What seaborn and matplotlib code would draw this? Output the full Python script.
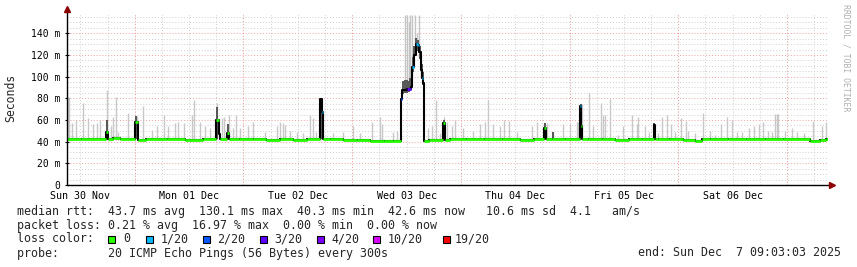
import matplotlib
matplotlib.use("Agg")
import matplotlib.pyplot as plt
from matplotlib.patches import Rectangle
import seaborn as sns
import pandas as pd

# ---------------- data (hours since start = Sun 30 Nov 09:03:03) ----------------
start = pd.Timestamp("2025-11-30 09:03:03")
span_hours = 168.0

# median rtt (ms), step-wise
med_t = [0.0, 3.0, 8.61, 9.05, 10.2, 11.7, 15.01, 15.61, 17.5, 22.0, 26.0, 30.0,
         32.9, 33.5, 33.8, 35.35, 35.7, 38.0, 41.0, 44.0, 47.0, 50.0, 53.0,
         55.85, 56.3, 56.55, 58.0, 61.0, 64.0, 67.0, 70.0, 72.0,
         73.73, 74.0, 75.0, 75.9, 76.2, 76.6, 77.0, 77.4, 77.8, 78.2, 78.45, 78.65,
         78.85, 80.0, 82.9, 83.5, 84.5, 88.0, 92.0, 96.0, 100.0, 103.0,
         105.3, 105.75, 107.0, 110.0, 113.2, 113.5, 113.75, 115.0, 118.0, 121.0,
         124.0, 127.0, 129.5, 129.75, 130.5, 133.0, 136.0, 138.7, 140.2, 142.0,
         146.0, 150.0, 154.0, 158.0, 164.0, 166.2, 167.5, 168.0]
med_v = [42.2, 42.0, 49.0, 42.5, 43.5, 42.2, 58.4, 41.5, 42.0, 42.3, 41.8, 42.2,
         60.0, 47.0, 42.2, 47.7, 42.4, 42.0, 42.4, 41.8, 42.2, 41.6, 42.0,
         79.0, 67.7, 42.0, 42.3, 41.8, 41.2, 41.0, 40.8, 41.0,
         79.0, 88.0, 89.0, 90.2, 109.0, 120.0, 130.1, 129.0, 123.0, 106.0, 98.5, 94.0,
         40.6, 41.2, 57.0, 41.8, 42.3, 42.0, 42.4, 42.1, 41.8, 42.3,
         53.0, 42.0, 42.5, 42.3, 73.0, 54.0, 42.0, 42.4, 42.0, 41.7,
         42.6, 42.3, 55.4, 42.2, 42.8, 42.0, 41.8, 40.6, 42.7, 42.0,
         42.3, 42.0, 42.6, 42.4, 40.8, 41.8, 42.6, 42.6]
# loss level index per segment (-1 = drawn dark only)
med_loss = [0, 0, 0, 0, 0, 0, 0, 0, 0, 0, 0, 0,
            0, -1, 0, 0, 0, 0, 0, 0, 0, 0, 0,
            -1, 1, 0, 0, 0, 0, 0, 0, 0,
            2, -1, 3, -1, 1, -1, 1, 1, -1, -1, 1, -1,
            0, 0, 0, 0, 0, 0, 0, 0, 0, 0,
            0, 0, 0, 0, 1, 0, 0, 0, 0, 0,
            0, 0, -1, 0, 0, 0, 0, 0, 0, 0,
            0, 0, 0, 0, 0, 0, 0, 0]

# light smoke (max ping) spikes
smoke_t = [0.22, 0.55, 1.04, 1.99, 3.60, 4.64, 5.67, 6.56, 7.29, 8.90, 9.72, 10.22,
           10.75, 11.33, 13.53, 15.35, 16.85, 18.70, 19.81, 21.42, 22.37, 23.85,
           24.58, 25.90, 27.53, 28.11, 29.37, 30.47, 31.57, 33.05, 34.16, 34.67,
           35.84, 36.72, 37.32, 38.20, 40.03, 41.14, 43.72, 46.30, 47.03, 47.63,
           48.13, 49.24, 50.72, 52.18, 53.65, 54.38, 54.98, 56.08, 58.80, 61.01,
           63.08, 64.69, 67.28, 69.11, 69.49, 72.05, 72.80, 79.64, 80.52, 81.47,
           82.36, 83.24, 83.83, 84.94, 85.67, 87.50, 89.71, 91.19, 92.29, 93.02,
           94.13, 95.61, 96.49, 97.66, 99.30, 102.61, 103.85, 105.92, 107.38,
           109.59, 111.06, 112.54, 112.83, 113.65, 115.33, 116.21, 117.80, 118.24,
           118.68, 119.89, 121.73, 122.83, 124.69, 125.79, 126.14, 127.62, 128.57,
           129.61, 130.56, 131.31, 132.41, 133.30, 134.25, 135.57, 136.68, 137.18,
           138.66, 140.49, 141.97, 143.08, 144.33, 145.80, 146.77, 147.87, 148.98,
           150.66, 151.69, 152.86, 153.75, 154.85, 155.60, 156.33, 156.71, 157.00,
           158.53, 160.01, 161.12, 162.73, 164.65, 166.64, 167.59]
smoke_hi = [81.0, 80.0, 57.0, 60.0, 75.6, 62.0, 56.0, 57.0, 60.0, 87.7, 54.0, 63.0,
            81.5, 49.0, 66.0, 64.0, 73.0, 50.8, 54.0, 64.6, 54.0, 57.0,
            58.0, 57.0, 64.6, 78.5, 58.0, 54.0, 53.0, 75.6, 62.0, 63.0,
            64.6, 53.0, 64.6, 53.0, 54.0, 58.0, 49.0, 54.0, 58.5, 57.0,
            55.0, 50.0, 49.0, 48.0, 64.6, 62.0, 49.0, 80.0, 48.0, 49.0,
            54.5, 48.0, 58.0, 63.0, 56.0, 49.0, 50.0, 52.6, 54.5, 78.5,
            48.0, 63.0, 58.0, 54.5, 60.0, 52.6, 50.0, 56.0, 58.0, 78.5,
            56.0, 54.0, 60.0, 59.0, 49.0, 54.0, 58.0, 57.0, 49.0,
            56.0, 56.0, 58.0, 58.0, 75.0, 84.7, 54.0, 75.6, 64.6,
            64.6, 79.0, 46.0, 54.0, 64.6, 56.0, 63.0, 54.0, 49.0,
            56.0, 48.0, 63.0, 64.6, 56.0, 49.0, 62.0, 59.0, 50.0,
            48.0, 66.8, 50.0, 46.0, 56.0, 63.0, 60.0, 49.0, 49.0,
            52.6, 54.0, 56.0, 58.0, 50.0, 49.0, 65.3, 65.3, 65.3,
            50.0, 52.6, 49.0, 48.0, 59.4, 54.0, 58.5]

# tall smoke during the Wed 03 Dec event
ev_t = [74.63, 75.01, 75.40, 75.74, 76.24, 76.84, 77.35, 77.79, 78.10]
ev_lo = [89.0, 89.0, 89.0, 90.0, 100.0, 125.0, 125.0, 118.0, 100.0]
ev_hi = [157.0, 157.0, 150.0, 157.0, 157.0, 157.0, 140.0, 157.0, 120.0]

# dense (dark) smoke
dk_t = [8.8, 15.3, 33.1, 35.5, 56.1, 83.2, 105.5, 107.4, 113.4, 129.6,
        74.2, 74.6, 75.0, 75.4, 75.8, 76.3, 76.7, 77.1, 77.5, 77.9, 78.3, 78.6]
dk_lo = [42.0, 42.0, 42.0, 42.0, 42.0, 42.0, 42.0, 42.0, 42.0, 42.0,
         84.0, 85.0, 85.0, 86.0, 87.0, 104.0, 115.0, 124.0, 124.0, 116.0, 100.0, 92.0]
dk_hi = [60.0, 64.0, 72.0, 56.0, 80.0, 60.0, 57.0, 49.0, 75.0, 57.0,
         96.0, 97.0, 97.0, 96.0, 99.0, 118.0, 128.0, 136.0, 134.0, 128.0, 112.0, 104.0]

loss_labels = ["0", "1/20", "2/20", "3/20", "4/20", "10/20", "19/20"]
loss_colors = ["#26ff00", "#00b8ff", "#0059ff", "#5e00ff", "#7e00ff", "#dd00ff", "#ff0000"]

y_ticks = [0, 20, 40, 60, 80, 100, 120, 140]
y_tick_labels = ["0", "20 m", "40 m", "60 m", "80 m", "100 m", "120 m", "140 m"]

legend_lines = [
    "median rtt:  43.7 ms avg  130.1 ms max  40.3 ms min  42.6 ms now   10.6 ms sd  4.1   am/s",
    "packet loss: 0.21 % avg  16.97 % max  0.00 % min  0.00 % now",
]
probe_text = "probe:       20 ICMP Echo Pings (56 Bytes) every 300s"
end_text = "end: Sun Dec  7 09:03:03 2025"

# ---------------- figure ----------------
sns.set_style("white")
plt.rcParams["font.family"] = ["DejaVu Sans Mono", "DejaVu Sans"]

W, H = 857, 267
fig = plt.figure(figsize=(W / 100, H / 100), dpi=100)
fig.patch.set_facecolor("white")
ax = fig.add_axes([67 / W, 82 / H, 761 / W, 171.5 / H])
ymax = 158.3
ax.set_xlim(0, span_hours)
ax.set_ylim(0, ymax)
for s in ax.spines.values():
    s.set_visible(False)

def hours(ts):
    return [(pd.Timestamp(x) - start).total_seconds() / 3600.0 for x in ts]

minor_x = hours(pd.date_range("2025-11-30 12:00", "2025-12-07 06:00", freq="6h"))
major_x = hours(pd.date_range("2025-12-01", "2025-12-07", freq="D"))
label_days = pd.date_range("2025-11-30 12:00", periods=7, freq="D")
label_x = hours(label_days)

dot = (0, (1, 2))
for xv in minor_x:
    ax.axvline(xv, color="#cfcfcf", lw=0.7, ls=dot, zorder=0)
for yv in range(5, 160, 5):
    if yv % 20:
        ax.axhline(yv, color="#cfcfcf", lw=0.7, ls=dot, zorder=0)
for xv in major_x:
    ax.axvline(xv, color="#f0a0a0", lw=0.7, ls=dot, zorder=0.5)
for yv in y_ticks[1:]:
    ax.axhline(yv, color="#f0a0a0", lw=0.7, ls=dot, zorder=0.5)

# smoke
ax.vlines(smoke_t, 41.5, smoke_hi, color="#c8c8c8", lw=1.0, zorder=1)
ax.vlines(ev_t, ev_lo, ev_hi, color="#c4c4c4", lw=1.0, zorder=1)
ax.vlines(dk_t, dk_lo, dk_hi, color="#555555", lw=1.4, zorder=2)

# median line
df = pd.DataFrame({"t": med_t, "v": med_v})
sns.lineplot(data=df, x="t", y="v", ax=ax, color="black", lw=1.5,
             drawstyle="steps-post", estimator=None, sort=False, zorder=3)
for i in range(len(med_t) - 1):
    if med_loss[i] >= 0:
        ax.hlines(med_v[i], med_t[i], med_t[i + 1], color=loss_colors[med_loss[i]],
                  lw=2.0, zorder=4)

ax.set_xlabel("")
ax.set_ylabel("")

# axes lines with arrows
ax.plot([0, 168.9], [0, 0], color="black", lw=1.0, clip_on=False, zorder=5)
ax.plot([0, 0], [0, 162.5], color="black", lw=1.0, clip_on=False, zorder=5)
ax.plot([168.9], [0], marker=">", color="#8b0000", ms=4, clip_on=False, zorder=6)
ax.plot([0], [162.5], marker="^", color="#8b0000", ms=4, clip_on=False, zorder=6)

ax.set_yticks(y_ticks)
ax.set_yticklabels(y_tick_labels)
ax.set_xticks(label_x)
ax.set_xticklabels([d.strftime("%a %d %b") for d in label_days])
ax.tick_params(axis="y", length=3, width=0.8, direction="inout", pad=3.5,
               labelsize=7.0, colors="black", left=True)
ax.tick_params(axis="x", length=0, pad=4, labelsize=7.2, colors="black")

fig.text(11 / W, 1 - 98 / H, "Seconds", rotation=90, ha="center", va="center",
         fontsize=8.3)
fig.text(846 / W, 1 - 4 / H, "RRDTOOL / TOBI OETIKER", rotation=270, ha="center",
         va="top", fontsize=5.9, color="#b0b0b0")

fs = 8.35
fig.text(16.7 / W, 1 - 211 / H, legend_lines[0], ha="left", va="center", fontsize=fs)
fig.text(16.7 / W, 1 - 225 / H, legend_lines[1], ha="left", va="center", fontsize=fs)
fig.text(16.7 / W, 1 - 239 / H, "loss color:", ha="left", va="center", fontsize=fs)
box_x = [108, 146, 202.5, 259.5, 316.5, 373, 443]
lab_x = [123, 161, 217.5, 274.5, 331.5, 388, 455]
for bx, lx, lab, col in zip(box_x, lab_x, loss_labels, loss_colors):
    fig.add_artist(Rectangle((bx / W, 1 - 242.5 / H), 7 / W, 7 / H,
                             transform=fig.transFigure, facecolor=col,
                             edgecolor="black", lw=0.8))
    fig.text(lx / W, 1 - 239 / H, lab, ha="left", va="center", fontsize=fs)
fig.text(16.7 / W, 1 - 253 / H, probe_text, ha="left", va="center", fontsize=fs)
fig.text(841 / W, 1 - 253 / H, end_text, ha="right", va="center", fontsize=fs)

fig.savefig("out.png", dpi=100, facecolor="white")
